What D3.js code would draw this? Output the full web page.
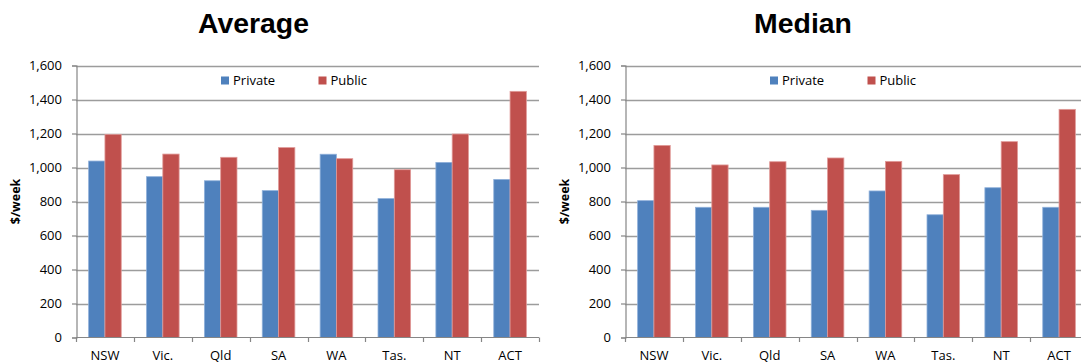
<!DOCTYPE html>
<html>
<head>
<meta charset="utf-8">
<script src="https://cdn.jsdelivr.net/npm/d3@7/dist/d3.min.js"></script>
<style>
  html, body { margin: 0; padding: 0; background: #fff; }
  svg { display: block; }
  .tick-label, .cat-label, .legend-label { font-family: "Open Sans", sans-serif; font-size: 13px; fill: #000; }
  .y-title { font-family: "Open Sans", sans-serif; font-size: 12.5px; font-weight: bold; fill: #000; }
  .panel-title { font-family: "Liberation Sans", Arial, sans-serif; font-size: 28.4px; font-weight: bold; fill: #000; }
</style>
</head>
<body>
<svg id="chart" width="1081" height="363"></svg>
<script>
// Weekly earnings by state/territory, private vs public sector ($/week)
const categories = ["NSW", "Vic.", "Qld", "SA", "WA", "Tas.", "NT", "ACT"];
const seriesNames = ["Private", "Public"];
const seriesColors = ["#4F81BD", "#C0504D"];
const seriesEdges = ["#8FB0DA", "#E09A98"];

const averagePrivate = [1038, 946, 922, 864, 1078, 817, 1030, 930];
const averagePublic  = [1195, 1079, 1060, 1117, 1052, 987, 1197, 1448];
const medianPrivate  = [805, 766, 766, 748, 862, 722, 881, 766];
const medianPublic   = [1130, 1015, 1034, 1056, 1036, 958, 1152, 1342];

const yTicks = [0, 200, 400, 600, 800, 1000, 1200, 1400, 1600];
const yTitle = "$/week";

const svg = d3.select("#chart");
const fmt = d3.format(",");

function drawPanel(opts) {
  const { title, titleX, left, right, series } = opts;
  const top = 65.5, bottom = 337.5;
  const g = svg.append("g");

  const x = d3.scaleBand().domain(categories).range([left, right]).padding(0);
  const xInner = d3.scaleBand().domain(seriesNames).range([0, x.bandwidth()])
    .paddingInner(0).paddingOuter(0.775);
  const y = d3.scaleLinear().domain([0, 1600]).range([bottom, top]);

  // horizontal gridlines
  g.append("g").selectAll("line").data(yTicks.filter(d => d > 0)).join("line")
    .attr("x1", left).attr("x2", right)
    .attr("y1", d => Math.round(y(d)) + 0.5).attr("y2", d => Math.round(y(d)) + 0.5)
    .attr("stroke", "#9c9c9c").attr("stroke-width", 1.3);

  // bars
  const rows = categories.map((c, i) => ({ cat: c, values: series.map(s => s[i]) }));
  const groups = g.append("g").selectAll("g").data(rows).join("g")
    .attr("transform", d => `translate(${x(d.cat)},0)`);
  groups.selectAll("rect")
    .data(d => d.values.map((v, k) => ({ name: seriesNames[k], value: v, k })))
    .join("rect")
    .attr("x", d => xInner(d.name))
    .attr("y", d => y(d.value))
    .attr("width", xInner.bandwidth())
    .attr("height", d => y(0) - y(d.value))
    .attr("fill", d => seriesColors[d.k])
    .attr("stroke", d => seriesEdges[d.k])
    .attr("stroke-width", 0.8);

  // y axis
  const yAxis = d3.axisLeft(y).tickValues(yTicks).tickFormat(fmt).tickSize(4.5).tickPadding(10);
  const ya = g.append("g").attr("transform", `translate(${left + 0.5},0)`).call(yAxis);
  ya.select(".domain").attr("stroke", "#868686").attr("stroke-width", 1.2);
  ya.selectAll(".tick line").attr("stroke", "#868686").attr("stroke-width", 1.2);
  ya.selectAll(".tick text").attr("class", "tick-label").attr("fill", "#000")
    .attr("font-family", null).attr("font-size", null);

  // x axis with ticks at category boundaries
  const bounds = categories.map(c => x(c)).concat([right]);
  g.append("line").attr("x1", left).attr("x2", right)
    .attr("y1", bottom).attr("y2", bottom)
    .attr("stroke", "#868686").attr("stroke-width", 1.2);
  g.append("g").selectAll("line").data(bounds).join("line")
    .attr("x1", d => Math.round(d) + 0.5).attr("x2", d => Math.round(d) + 0.5)
    .attr("y1", bottom).attr("y2", bottom + 4.5)
    .attr("stroke", "#868686").attr("stroke-width", 1.2);
  g.append("g").selectAll("text").data(categories).join("text")
    .attr("class", "cat-label")
    .attr("x", d => x(d) + x.bandwidth() / 2)
    .attr("y", 360)
    .attr("text-anchor", "middle")
    .text(d => d);

  // y axis title
  g.append("text").attr("class", "y-title")
    .attr("transform", `translate(${left - 60},${201.5}) rotate(-90)`)
    .attr("text-anchor", "middle").attr("dy", "0.35em")
    .text(yTitle);

  // legend
  const legend = g.append("g").selectAll("g").data(seriesNames).join("g")
    .attr("transform", (d, i) => `translate(${left + 145 + i * 97.5},76.5)`);
  legend.append("rect").attr("width", 8).attr("height", 8)
    .attr("fill", (d, i) => seriesColors[i]);
  legend.append("text").attr("class", "legend-label")
    .attr("x", 12).attr("y", 4).attr("dy", "0.35em").text(d => d);

  // title
  g.append("text").attr("class", "panel-title")
    .attr("x", titleX).attr("y", 33).attr("text-anchor", "middle").text(title);
}

drawPanel({ title: "Average", titleX: 253.5, left: 76, right: 539, series: [averagePrivate, averagePublic] });
drawPanel({ title: "Median", titleX: 803, left: 625, right: 1088, series: [medianPrivate, medianPublic] });
</script>
</body>
</html>
